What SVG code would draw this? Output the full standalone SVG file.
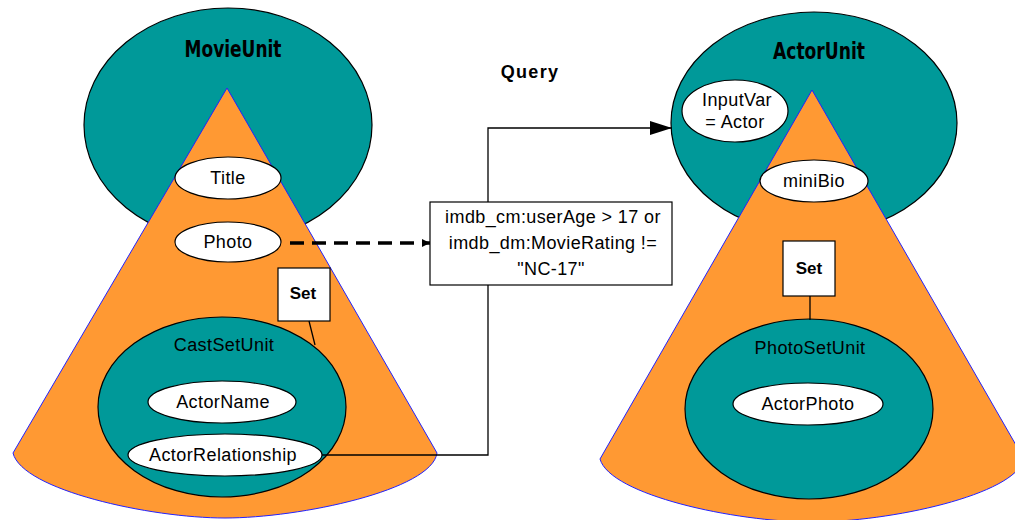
<svg xmlns="http://www.w3.org/2000/svg" width="1015" height="520" viewBox="0 0 1015 520">
<defs>
<style>
.unit{fill:#009999;stroke:#000;stroke-width:1.2}
.cone{fill:#FF9933;stroke:#2222ff;stroke-width:1}
.attr{fill:#fff;stroke:#000;stroke-width:1.2}
.box{fill:#fff;stroke:#000;stroke-width:1.2}
.lbl{font-family:"Liberation Sans",Arial,sans-serif;font-size:18px;fill:#000;text-anchor:middle;letter-spacing:0.4px}
.ttl{font-family:"DejaVu Sans Condensed","Liberation Sans",sans-serif;font-weight:bold;font-size:23px;fill:#000;text-anchor:middle}
.bold{font-family:"Liberation Sans",Arial,sans-serif;font-weight:bold;font-size:17px;fill:#000;text-anchor:middle}
.conn{fill:none;stroke:#000;stroke-width:1.3}
</style>
<marker id="arr" markerWidth="22" markerHeight="14" refX="22" refY="7" orient="auto" markerUnits="userSpaceOnUse">
<path d="M0,0 L22,7 L0,14 Z" fill="#000"/>
</marker>
<marker id="arrs" markerWidth="8" markerHeight="8" refX="8" refY="4" orient="auto" markerUnits="userSpaceOnUse">
<path d="M0,0 L8,4 L0,8 Z" fill="#000"/>
</marker>
</defs>
<rect width="1015" height="520" fill="#fff"/>

<g id="movieUnit">
<ellipse class="unit" cx="228" cy="125" rx="144" ry="117"/>
<text class="ttl" x="233" y="57" textLength="97" lengthAdjust="spacingAndGlyphs">MovieUnit</text>
<path class="cone" d="M227,88 L437,453 C432,490 300,518 225,518 C150,518 22,490 13,453 Z"/>
</g>
<g id="title">
<ellipse class="attr" cx="228" cy="178" rx="53" ry="21"/>
<text class="lbl" x="228" y="184">Title</text>
</g>
<g id="photo">
<ellipse class="attr" cx="228" cy="242" rx="53" ry="20"/>
<text class="lbl" x="228" y="248">Photo</text>
</g>
<g id="castSetUnit">
<ellipse class="unit" cx="222" cy="407" rx="124" ry="90"/>
<text class="lbl" x="224" y="351">CastSetUnit</text>
</g>
<g id="actorName">
<ellipse class="attr" cx="222" cy="402" rx="74" ry="21"/>
<text class="lbl" x="223" y="408">ActorName</text>
</g>
<g id="actorRelationship">
<ellipse class="attr" cx="225" cy="455" rx="97" ry="21"/>
<text class="lbl" x="223" y="461">ActorRelationship</text>
</g>
<g id="setLeft">
<rect class="box" x="278" y="268" width="52" height="53"/>
<text class="bold" x="303" y="299">Set</text>
</g>

<g id="actorUnit">
<ellipse class="unit" cx="814" cy="123" rx="143" ry="111"/>
<text class="ttl" x="819" y="59" textLength="92" lengthAdjust="spacingAndGlyphs">ActorUnit</text>
<path class="cone" d="M812,90 L1024,459 C1015,495 890,522 812,522 C735,522 610,495 600,459 Z"/>
</g>
<g id="inputVar">
<ellipse class="attr" cx="735" cy="111" rx="53" ry="31"/>
<text class="lbl" x="737" y="106">InputVar</text>
<text class="lbl" x="735" y="128">= Actor</text>
</g>
<g id="miniBio">
<ellipse class="attr" cx="814" cy="181" rx="54" ry="21"/>
<text class="lbl" x="814" y="187">miniBio</text>
</g>
<g id="photoSetUnit">
<ellipse class="unit" cx="809" cy="409" rx="124" ry="90"/>
<text class="lbl" x="810" y="354">PhotoSetUnit</text>
</g>
<g id="actorPhoto">
<ellipse class="attr" cx="808" cy="404" rx="75" ry="21"/>
<text class="lbl" x="808" y="410">ActorPhoto</text>
</g>
<g id="setRight">
<rect class="box" x="783" y="241" width="52" height="55"/>
<text class="bold" x="809" y="274">Set</text>
</g>

<g id="connectors">
<path class="conn" d="M322,455 H488 V128 H672" marker-end="url(#arr)"/>
<path d="M290,243 H430" fill="none" stroke="#000" stroke-width="3.5" stroke-dasharray="14,8" marker-end="url(#arrs)"/>
<path class="conn" d="M309,321 L315,345"/>
<path class="conn" d="M810,296 V320"/>
</g>

<g id="query">
<text class="bold" x="530" y="78" style="font-size:18px;letter-spacing:1.3px">Query</text>
<rect class="box" x="430" y="202" width="242" height="83"/>
<text class="lbl" x="553" y="223">imdb_cm:userAge &gt; 17 or</text>
<text class="lbl" x="553" y="249">imdb_dm:MovieRating !=</text>
<text class="lbl" x="551" y="275">"NC-17"</text>
</g>
</svg>
